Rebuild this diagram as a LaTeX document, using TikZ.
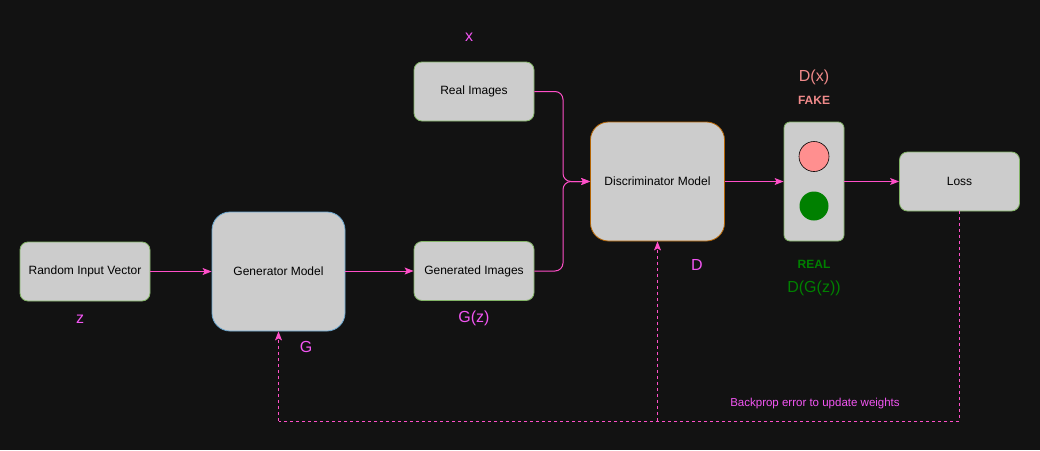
\documentclass[tikz,border=0pt]{standalone}
\usepackage{fontspec}
\setmainfont{Liberation Sans}
\usetikzlibrary{arrows.meta}
\definecolor{bg}{HTML}{121212}
\definecolor{boxfill}{HTML}{CCCCCC}
\definecolor{gstroke}{HTML}{82B366}
\definecolor{bstroke}{HTML}{6CA8D0}
\definecolor{ostroke}{HTML}{B46504}
\definecolor{pinkline}{HTML}{FF4FC8}
\definecolor{maglabel}{HTML}{F255F2}
\definecolor{fakecol}{HTML}{F08A8A}
\definecolor{redlamp}{HTML}{FF8F8F}
\definecolor{greenlamp}{HTML}{008000}
\tikzset{
  box/.style={draw=gstroke, fill=boxfill, line width=0.8pt, rounded corners=8pt, inner sep=0pt,
    font=\fontsize{12}{14}\selectfont, text=black},
  bigbox/.style={box, rounded corners=18pt, minimum width=133pt, minimum height=119pt},
  smallbox/.style={box, minimum width=120pt, minimum height=59pt},
  lbl/.style={text=maglabel, font=\fontsize{16}{18}\selectfont, inner sep=0pt},
  conn/.style={draw=pinkline, line width=1pt, -{Stealth[length=9pt,width=7pt,inset=2pt]}},
  dconn/.style={conn, dash pattern=on 3pt off 3pt},
  dline/.style={draw=pinkline, line width=1pt, dash pattern=on 3pt off 3pt},
}
\begin{document}
\begin{tikzpicture}[x=1pt,y=-1pt]
\fill[bg] (0,0) rectangle (1040,450);
\useasboundingbox (0,0) rectangle (1040,450);

\node[box, minimum width=130pt, minimum height=59pt] (rand) at (85,271.5) {Random Input Vector};
\node[bigbox, draw=bstroke] (gen) at (278.5,271.5) {Generator Model};
\node[smallbox] (real) at (474,91.5) {Real Images};
\node[smallbox] (gimg) at (474,271) {Generated Images};
\node[bigbox, draw=ostroke, minimum width=134pt] (disc) at (657.5,181.5) {Discriminator Model};
\node[box, rounded corners=6pt, minimum width=60pt, minimum height=119pt] (light) at (814,181.5) {};
\node[circle, draw=black, fill=redlamp, line width=0.6pt, minimum size=30pt, inner sep=0pt] (redc) at (814,156.5) {};
\node[circle, fill=greenlamp, minimum size=29pt, inner sep=0pt] (greenc) at (814,206) {};
\node[smallbox] (loss) at (959.5,181.5) {Loss};

\node[lbl] (lz) at (80,319) {z};
\node[lbl] (lg) at (306,347) {G};
\node[lbl] (lx) at (469,37) {x};
\node[lbl] (lgz) at (474,318) {G(z)};
\node[lbl] (ld) at (697,265) {D};
\node[lbl, text=fakecol] (ldx) at (814,77) {D(x)};
\node[text=fakecol, font=\fontsize{12}{14}\selectfont\bfseries, inner sep=0pt] (lfake) at (814,100) {FAKE};
\node[text=greenlamp, font=\fontsize{12}{14}\selectfont\bfseries, inner sep=0pt] (lreal) at (814,264) {REAL};
\node[lbl, text=greenlamp] (ldgz) at (814,288) {D(G(z))};
\node[text=maglabel, font=\fontsize{11.5}{13}\selectfont, inner sep=0pt] (lbp) at (815,404) {Backprop error to update weights};

\coordinate (jx) at (563,181.5);
\coordinate (bl) at (278.5,421);
\coordinate (bm) at (657.5,421);
\coordinate (br) at (959.5,421);

\draw[conn] (rand) -- (gen);
\draw[conn] (gen.east |- gimg) -- (gimg);
\draw[conn, rounded corners=8pt] (real.east) -| (jx) -- (disc.west);
\draw[conn, rounded corners=8pt] (gimg.east) -| (jx) -- (disc.west);
\draw[conn] (disc) -- (light);
\draw[conn] (light) -- (loss);
\draw[dline] (loss.south) -- (br) -- (bl);
\draw[dconn] (bl) -- (gen.south);
\draw[dconn] (bm) -- (disc.south);
\end{tikzpicture}
\end{document}
